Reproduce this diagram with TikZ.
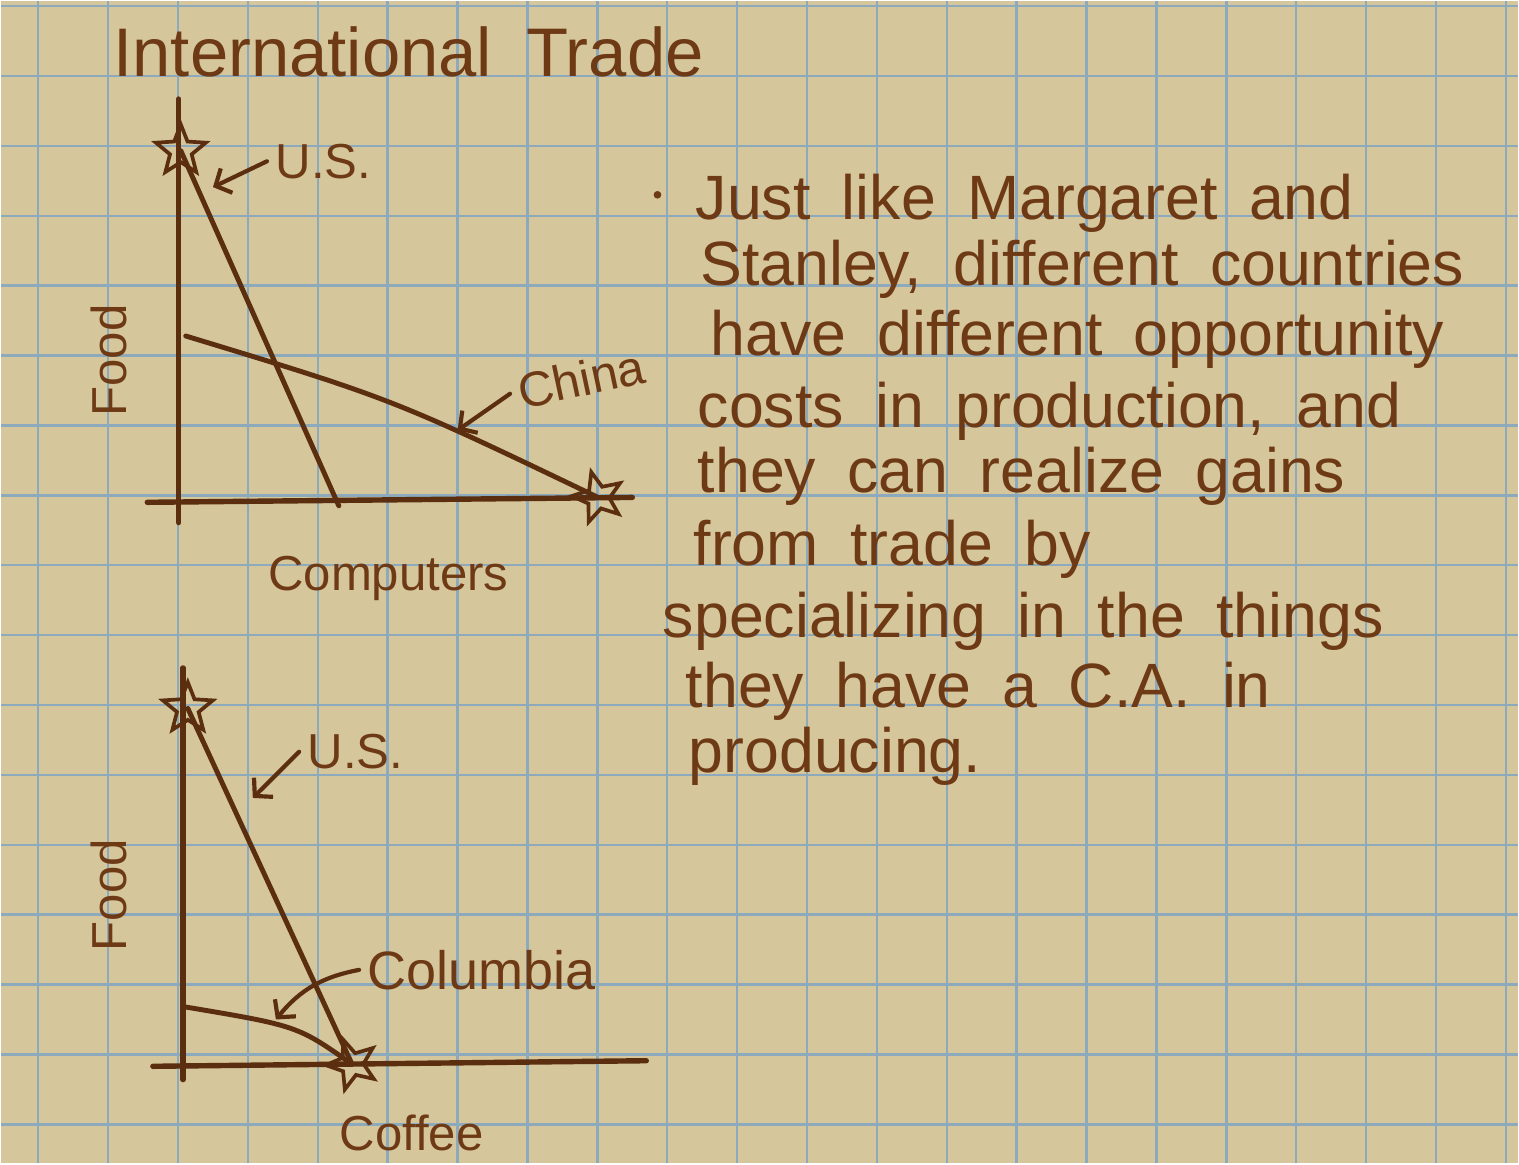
\documentclass[tikz,border=0pt]{standalone}
\usepackage{fontspec}
\setmainfont{Liberation Sans}[WordSpace=1.8]
\usetikzlibrary{shapes.geometric,arrows.meta,positioning,calc}

\definecolor{paper}{RGB}{214,198,155}
\definecolor{gridblue}{RGB}{140,170,188}
\definecolor{ink}{RGB}{92,46,16}
\definecolor{textink}{RGB}{110,58,22}

\tikzset{
	axisline/.style={draw=ink, line width=2.2pt, line cap=round},
	ppfline/.style={draw=ink, line width=2pt, line cap=round},
	pointer/.style={draw=ink, line width=1.7pt, line cap=round, -{Straight Barb[length=5pt,width=11pt]}},
	starmark/.style={star, star points=5, star point ratio=2.3, draw=ink, line width=1.5pt, minimum size=0.75cm, inner sep=0pt},
	lbl/.style={text=textink, font=\fontsize{20}{24}\selectfont},
	hand/.style={text=textink, font=\fontsize{25.5}{30}\selectfont, anchor=base west, inner sep=0pt}
}

\begin{document}
\begin{tikzpicture}
		% Graph paper
		\fill[paper] (0,0) rectangle (21.7,16.63);
		\foreach \x in {0,...,21}
			\draw[gridblue, line width=1pt] (\x+0.53,0) -- (\x+0.53,16.63);
		\foreach \y in {0,...,16}
			\draw[gridblue, line width=1pt] (0,\y+0.56) -- (21.7,\y+0.56);

		% Title
		\node[hand, font=\fontsize{28}{33}\selectfont] (title) at (1.6,15.56) {International Trade};

		% Top chart - Food vs Computers
		\draw[axisline] (2.54,15.23) -- (2.54,9.17);
		\draw[axisline] (2.09,9.46) -- (9.03,9.53);
		\node[starmark] (usA) at (2.57,14.49) {};
		\node[starmark, rotate=15] (chinaA) at (8.54,9.53) {};
		\coordinate (usAend) at (4.83,9.41);
		\coordinate (chinaAstart) at (2.64,11.84);
		\draw[ppfline] (usA.center) -- (usAend);
		\draw[ppfline] (chinaAstart) .. controls (5.6,10.94) .. (chinaA.center);
		\node[lbl, rotate=90] (foodA) at (1.54,11.49) {Food};
		\node[lbl] (computers) at (5.54,8.37) {Computers};
		% labels with pointers
		\node[lbl] (usAlbl) at (4.61,14.34) {U.S.};
		\coordinate (usAtip) at (3.03,13.97);
		\draw[pointer] (usAlbl.west) -- (usAtip);
		\node[lbl, rotate=12] (chinaLbl) at (8.3,11.23) {China};
		\coordinate (chinaTip) at (6.53,10.49);
		\draw[pointer] (chinaLbl.west) -- (chinaTip);

		% Bottom chart - Food vs Coffee
		\draw[axisline] (2.6,7.09) -- (2.6,1.2);
		\draw[axisline] (2.17,1.39) -- (9.23,1.47);
		\node[starmark] (usB) at (2.67,6.51) {};
		\node[starmark, rotate=20] (coffeeB) at (5.02,1.42) {};
		\coordinate (colBstart) at (2.63,2.24);
		\draw[ppfline] (usB.center) -- (coffeeB.center);
		\draw[ppfline] (colBstart) .. controls (4.24,1.97) .. (coffeeB.center);
		\node[lbl, rotate=90] (foodB) at (1.54,3.84) {Food};
		\node[lbl] (coffee) at (5.87,0.44) {Coffee};
		% labels with pointers
		\node[lbl] (usBlbl) at (5.07,5.89) {U.S.};
		\coordinate (usBtip) at (3.6,5.23);
		\draw[pointer] (usBlbl.west) -- (usBtip);
		\node[lbl, font=\fontsize{22}{26}\selectfont, anchor=west] (colBlbl) at (5.12,2.77) {Columbia};
		\coordinate (colBtip) at (3.93,2.06);
		\draw[pointer] (colBlbl.west) to[bend right=20] (colBtip);

		% Notes
		\fill[textink] (9.39,13.86) circle (0.055);
		\foreach \x/\y/\txt [count=\i] in {
			9.93/13.51/{Just like Margaret and},
			10.0/12.56/{Stanley, different countries},
			10.14/11.56/{have different opportunity},
			9.96/10.53/{costs in production, and},
			9.96/9.6/{they can realize gains},
			9.9/8.56/{from trade by},
			9.46/7.53/{specializing in the things},
			9.79/6.53/{they have a C.A. in},
			9.83/5.59/{producing.}}
			\node[hand] (note\i) at (\x,\y) {\txt};
	\end{tikzpicture}
\end{document}
